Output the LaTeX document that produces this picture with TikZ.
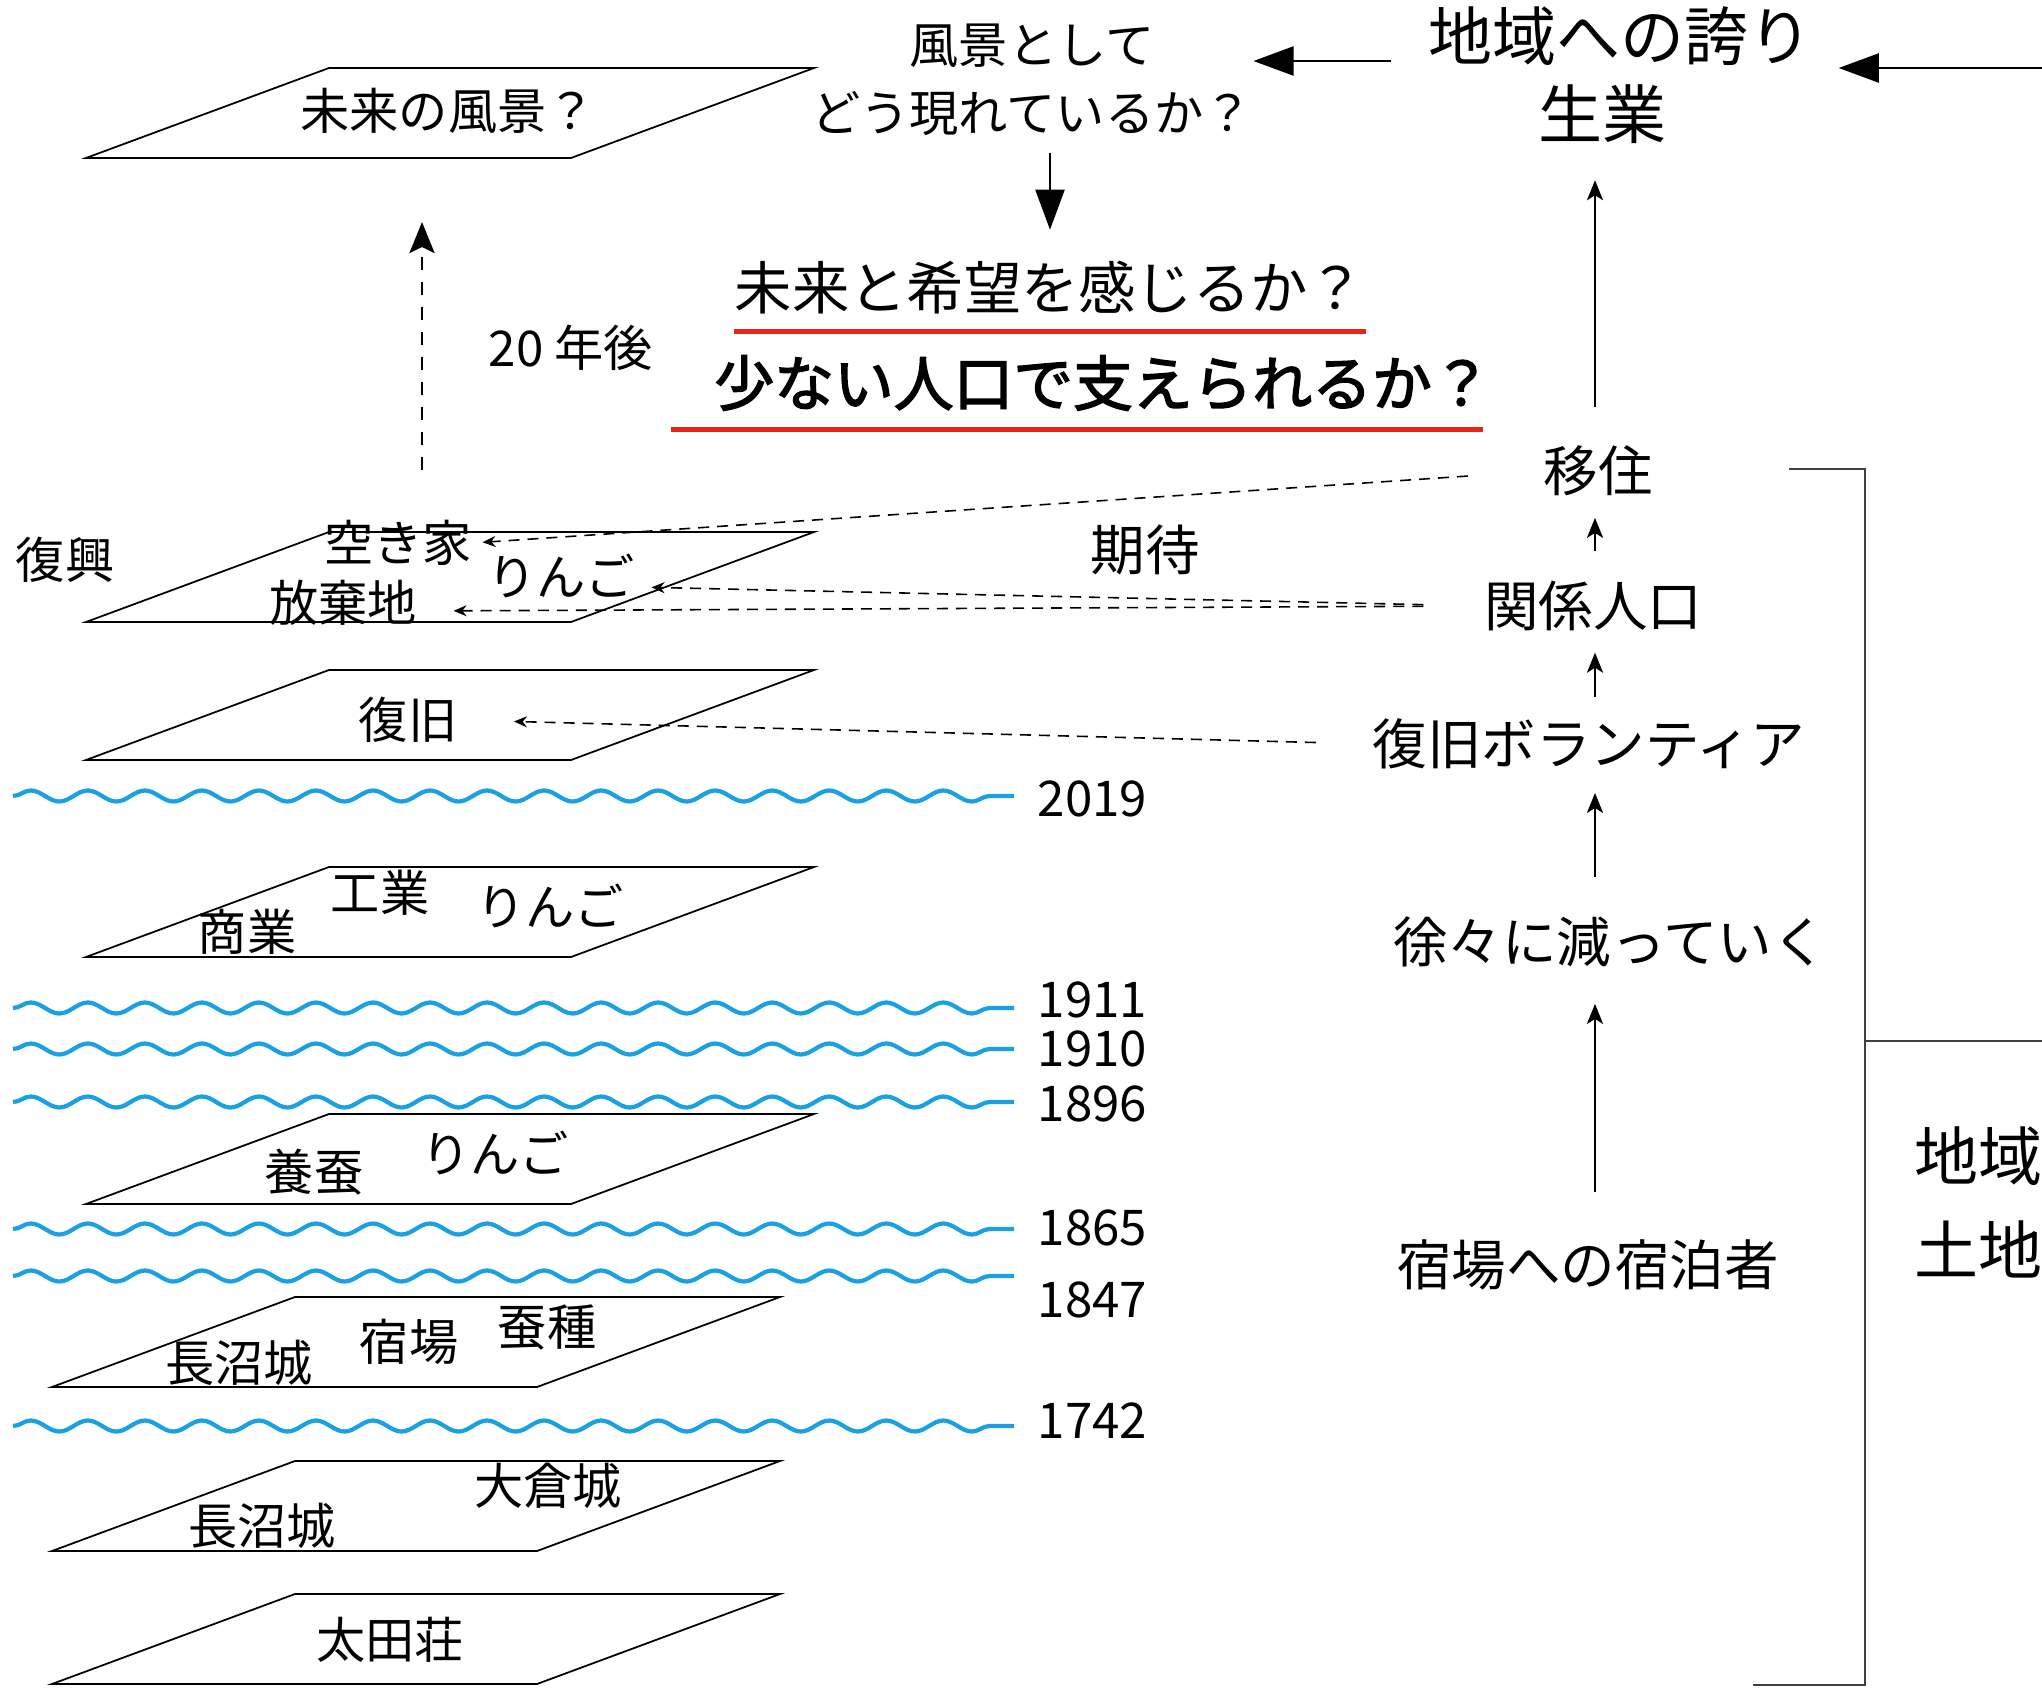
\documentclass[tikz,border=0pt]{standalone}
\usepackage{fontspec}
\setmainfont{Noto Sans CJK JP}
\newfontfamily\semibold{Noto Sans CJK JP}[FakeBold=2.5]
\usetikzlibrary{arrows.meta,positioning,decorations.pathmorphing}
\definecolor{wavebl}{RGB}{27,160,226}
\definecolor{ulred}{RGB}{232,36,22}
\tikzset{%
   lbl/.style={
      inner sep=0pt,
      font=\fontsize{14}{19.3}\selectfont
   },
   colnode/.style={
      inner sep=0pt,
      font=\fontsize{15.5}{18}\selectfont
   },
   bignode/.style={
      inner sep=0pt,
      font=\fontsize{18.2}{22}\selectfont
   },
   year/.style={
      lbl,
      anchor=west
   },
   wave/.style={
      draw=wavebl,
      line width=1.2pt,
      decorate,
      decoration={snake, segment length=5.7mm, amplitude=0.55mm}
   },
   sheet/.style={
      line width=0.5pt
   },
   bigarr/.style={
      -{Triangle[length=4mm, width=2.9mm]},
      line width=0.6pt
   },
   uparr/.style={
      -{Stealth[length=2mm, width=1.6mm, inset=0.5mm]},
      line width=0.75pt
   },
   laterarr/.style={
      -{Stealth[length=3.1mm, width=2.5mm, inset=0.6mm]},
      line width=0.75pt,
      dash pattern=on 1.3mm off 1.2mm
   },
   hint/.style={
      -{Stealth[length=1.3mm, width=1.1mm]},
      line width=0.45pt,
      dash pattern=on 1.1mm off 0.8mm
   },
   uline/.style={
      draw=ulred,
      line width=1.35pt
   },
}
\newcommand{\sheetat}[2]{\draw[sheet] (#1,#2) -- ++(485,0) -- ++(243,-90) -- ++(-485,0) -- cycle;}

\begin{document}
\begin{tikzpicture}[x=0.01cm, y=-0.01cm]
   \useasboundingbox (0,0) rectangle (2042,1691);
   % layers, from the future down to the oldest
   \sheetat{86}{158}
   \sheetat{86}{622}
   \sheetat{86}{760}
   \sheetat{86}{957}
   \sheetat{86}{1204}
   \sheetat{52}{1387}
   \sheetat{52}{1551}
   \sheetat{52}{1684}
   \node[lbl] (fut) at (448,111) {未来の風景？};
   \node[lbl] (revival) at (65,560) {復興};
   \node[lbl] (akiya) at (398,543) {空き家};
   \node[lbl] (ringoA) at (561,576) {りんご};
   \node[lbl] (houki) at (343,603) {放棄地};
   \node[lbl] (fukkyu) at (408,720) {復旧};
   \node[lbl] (kogyo) at (380,893) {工業};
   \node[lbl] (ringoB) at (550,906) {りんご};
   \node[lbl] (shogyo) at (247,932) {商業};
   \node[lbl] (yosan) at (314,1172) {養蚕};
   \node[lbl] (ringoC) at (495,1153) {りんご};
   \node[lbl] (naganumaA) at (239,1363) {長沼城};
   \node[lbl] (shukuba) at (409,1342) {宿場};
   \node[lbl] (sanshu) at (547,1327) {蚕種};
   \node[lbl] (naganumaB) at (262,1526) {長沼城};
   \node[lbl] (okura) at (548,1486) {大倉城};
   \node[lbl] (ota) at (390,1640) {太田荘};
   % breaks in time
   \draw[wave] (13,796) -- (1014,796);
   \draw[wave] (13,1008) -- (1014,1008);
   \draw[wave] (13,1049) -- (1014,1049);
   \draw[wave] (13,1102) -- (1014,1102);
   \draw[wave] (13,1229) -- (1014,1229);
   \draw[wave] (13,1276) -- (1014,1276);
   \draw[wave] (13,1426) -- (1014,1426);
   \node[year] (y2019) at (1037,799) {2019};
   \node[year] (y1911) at (1037,1000) {1911};
   \node[year] (y1910) at (1037,1049) {1910};
   \node[year] (y1896) at (1037,1104) {1896};
   \node[year] (y1865) at (1037,1228) {1865};
   \node[year] (y1847) at (1037,1300) {1847};
   \node[year] (y1742) at (1037,1421) {1742};
   % questions at the top
   \node[lbl, align=center] (fukei) at (1032,80) {風景として\\どう現れているか？};
   \node[bignode] (hokori) at (1620,36) {地域への誇り};
   \node[bignode] (nariwai) at (1602,114) {生業};
   \node[inner sep=0pt, font=\fontsize{16.3}{20}\selectfont] (mirai) at (1050,288) {未来と希望を感じるか？};
   \node[inner sep=0pt, font=\fontsize{17}{20}\selectfont\semibold] (sukunai) at (1103,383) {少ない人口で支えられるか？};
   \node[lbl] (nengo) at (571,348) {20 年後};
   \coordinate (now) at (422,470);
   \coordinate (later) at (422,222);
   \coordinate (edge) at (2042,68);
   \draw[laterarr] (now) -- (later);
   \draw[uline] ([yshift=-1.6mm]mirai.south west) -- ([yshift=-1.6mm]mirai.south east);
   \draw[uline] ([xshift=-4.3mm, yshift=-1.8mm]sukunai.south west) -- ([xshift=-0.9mm, yshift=-1.8mm]sukunai.south east);
   \draw[bigarr, shorten <=3.6mm] ([yshift=-2.5mm]hokori.west) -- ([yshift=-2.5mm]hokori.west -| fukei.east);
   \draw[bigarr, shorten >=2.6mm] (edge) -- (edge -| hokori.east);
   \draw[bigarr, shorten <=1.6mm, shorten >=3.1mm] (fukei.south -| mirai.north) -- (mirai.north);
   % people coming in
   \node[colnode] (iju) at (1598,471) {移住};
   \node[colnode] (kankei) at (1593,606) {関係人口};
   \node[colnode] (volun) at (1589,744) {復旧ボランティア};
   \node[colnode] (jojo) at (1610,942) {徐々に減っていく};
   \node[colnode] (shukuhaku) at (1588,1265) {宿場への宿泊者};
   \node[colnode] (kitai) at (1145,550) {期待};
   \coordinate (col) at (1595,0);
   \draw[uparr, shorten <=4.7mm, shorten >=3.6mm] (shukuhaku.north -| col) -- (jojo.south -| col);
   \draw[uparr, shorten <=3.9mm, shorten >=2.3mm] (jojo.north -| col) -- (volun.south -| col);
   \draw[uparr, shorten <=2.1mm, shorten >=2.1mm] (volun.north -| col) -- (kankei.south -| col);
   \draw[uparr, shorten <=2.9mm, shorten >=2.1mm] (kankei.north -| col) -- (iju.south -| col);
   \draw[uparr, shorten <=3.8mm, shorten >=3.6mm] (iju.north -| col) -- (nariwai.south -| col);
   \draw[hint, shorten <=7.5mm, shorten >=1mm] (iju.west) -- (akiya.east);
   \draw[hint, shorten <=6mm, shorten >=1.6mm] (kankei.west) -- ([yshift=-1.1mm]ringoA.east);
   \draw[hint, shorten <=6mm, shorten >=3.6mm] (kankei.west) -- ([yshift=-0.8mm]houki.east);
   \draw[hint, shorten <=5.6mm, shorten >=5.6mm] (volun.west) -- (fukkyu.east);
   % bracket on the right
   \draw[sheet, black!75] (1789,469) -- (1865,469) -- (1865,1685) -- (1753,1685);
   \draw[sheet, black!75] (1865,1041) -- (2042,1041);
   \node[bignode, anchor=west] (chiiki) at (1914,1156) {地域};
   \node[bignode, anchor=west] (tochi) at (1914,1249) {土地};
\end{tikzpicture}
\end{document}
